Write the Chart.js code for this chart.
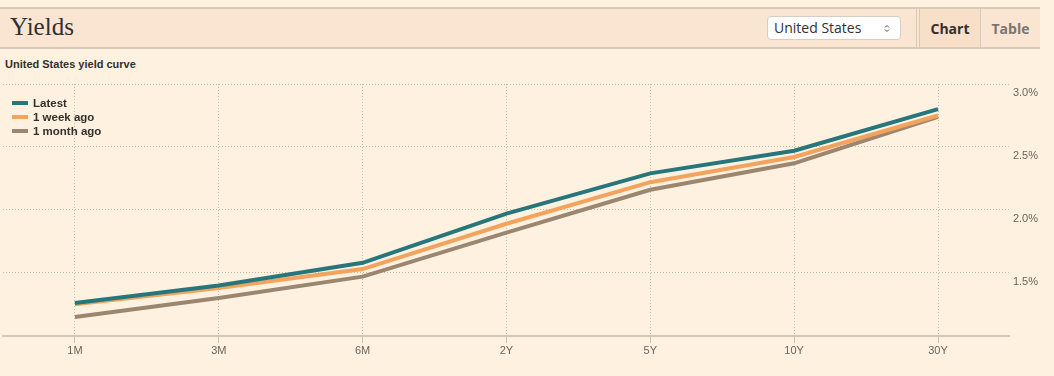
<!DOCTYPE html>
<html lang="en">
<head>
    <meta charset="UTF-8" />
    <title>Yields</title>
    <script src="https://cdn.jsdelivr.net/npm/chart.js"></script>
    <style>
        body { margin: 0; background: #fff1e0; width: 1054px; height: 376px; position: relative; overflow: hidden; font-family: "Liberation Sans", Arial, sans-serif; }
        .header { position: absolute; left: 0; top: 7px; width: 1040px; height: 38px; background: #f9e5d2; border-top: 2px solid #d9c9b8; border-bottom: 2px solid #d9c9b8; }
        .title { position: absolute; left: 10px; top: 4px; font-family: "Liberation Serif", "DejaVu Serif", serif; font-size: 25px; color: #33302e; }
        .select { position: absolute; left: 767px; top: 7px; width: 126px; height: 22px; background: #fff; border: 1px solid #d7cdc2; border-radius: 4px; font-family: "Open Sans", sans-serif; font-size: 14px; color: #33302e; line-height: 22px; padding-left: 6px; box-sizing: content-box; }
        .select svg { position: absolute; right: 10px; top: 7px; }
        .sep { position: absolute; left: 916px; top: 0; width: 2px; height: 38px; border-left: 1px solid #d9c9b8; border-right: 1px solid #d9c9b8; }
        .tab { position: absolute; top: 0; height: 38px; line-height: 40px; font-family: "Open Sans", sans-serif; font-weight: bold; font-size: 14px; text-align: center; }
        .tab.chart { left: 920px; width: 60px; background: #f7dfc8; color: #33302e; border-right: 1px solid #d9c9b8; }
        .tab.table { left: 981px; width: 59px; color: #7a7570; }
        .subtitle { position: absolute; left: 5px; top: 58px; font-weight: bold; font-size: 11px; color: #33302e; }
        .legend { position: absolute; left: 12px; top: 96px; font-weight: bold; font-size: 11.5px; color: #33302e; }
        .legend div { height: 14px; line-height: 14px; white-space: nowrap; }
        .legend span { display: inline-block; width: 16px; height: 4px; vertical-align: middle; margin-right: 5px; margin-top: -2px; }
        .wrap { position: absolute; left: 0; top: 74px; width: 1054px; height: 300px; }
    </style>
</head>
<body>
    <div class="header">
        <div class="title">Yields</div>
        <div class="select">United States
            <svg width="6" height="9" viewBox="0 0 6 9"><path d="M1 3.5 L3 1.5 L5 3.5 M1 5.5 L3 7.5 L5 5.5" stroke="#555" stroke-width="1" fill="none"/></svg>
        </div>
        <div class="sep"></div>
        <div class="tab chart">Chart</div>
        <div class="tab table">Table</div>
    </div>
    <div class="subtitle">United States yield curve</div>
    <div class="wrap"><canvas id="yieldChart"></canvas></div>
    <div class="legend" id="legend"></div>

    <script>
        const categories = ['1M', '3M', '6M', '2Y', '5Y', '10Y', '30Y'];
        const latest = [1.26, 1.40, 1.58, 1.97, 2.29, 2.47, 2.80];
        const weekAgo = [1.25, 1.38, 1.53, 1.89, 2.22, 2.42, 2.75];
        const monthAgo = [1.15, 1.30, 1.47, 1.82, 2.16, 2.37, 2.74];
        const yTicks = [1.5, 2.0, 2.5, 3.0];

        const seriesNames = ['Latest', '1 week ago', '1 month ago'];
        const seriesColors = ['#26767b', '#f2a35e', '#9b8770'];
        const seriesData = [latest, weekAgo, monthAgo];

        const datasets = seriesNames.map((name, i) => ({
            label: name,
            data: seriesData[i],
            borderColor: seriesColors[i],
            borderWidth: 4,
            pointRadius: 0,
            tension: 0,
            fill: false
        }));

        // legend as html so it can sit inside the plot
        document.getElementById('legend').innerHTML = seriesNames.map((n, i) =>
            `<div><span style="background:${seriesColors[i]}"></span>${n}</div>`).join('');

        const tickFont = { family: '"Liberation Sans", Arial, sans-serif', size: 11 };

        new Chart(document.getElementById('yieldChart'), {
            type: 'line',
            data: { labels: categories, datasets: datasets },
            options: {
                responsive: true,
                maintainAspectRatio: false,
                animation: false,
                layout: { padding: { left: 3, right: 13, top: 10, bottom: 14 } },
                plugins: { legend: { display: false }, tooltip: { enabled: false } },
                scales: {
                    x: {
                        offset: true,
                        grid: { color: '#c9baa9', tickColor: '#cdbfae', tickLength: 7, tickBorderDash: [] },
                        border: { color: '#d5c6b5', width: 2, dash: [1, 2] },
                        ticks: { color: '#6b655f', font: tickFont, padding: 2 }
                    },
                    y: {
                        position: 'right',
                        min: 1,
                        max: 3,
                        afterBuildTicks: (axis) => { axis.ticks = [1].concat(yTicks).map(v => ({ value: v })); },
                        grid: { color: '#c9baa9', drawTicks: false },
                        border: { display: false, dash: [1, 2] },
                        ticks: {
                            color: '#6b655f',
                            font: tickFont,
                            padding: 3,
                            labelOffset: 9,
                            callback: (v) => v === 1 ? '' : v.toFixed(1) + '%'
                        }
                    }
                }
            }
        });
    </script>
</body>
</html>
